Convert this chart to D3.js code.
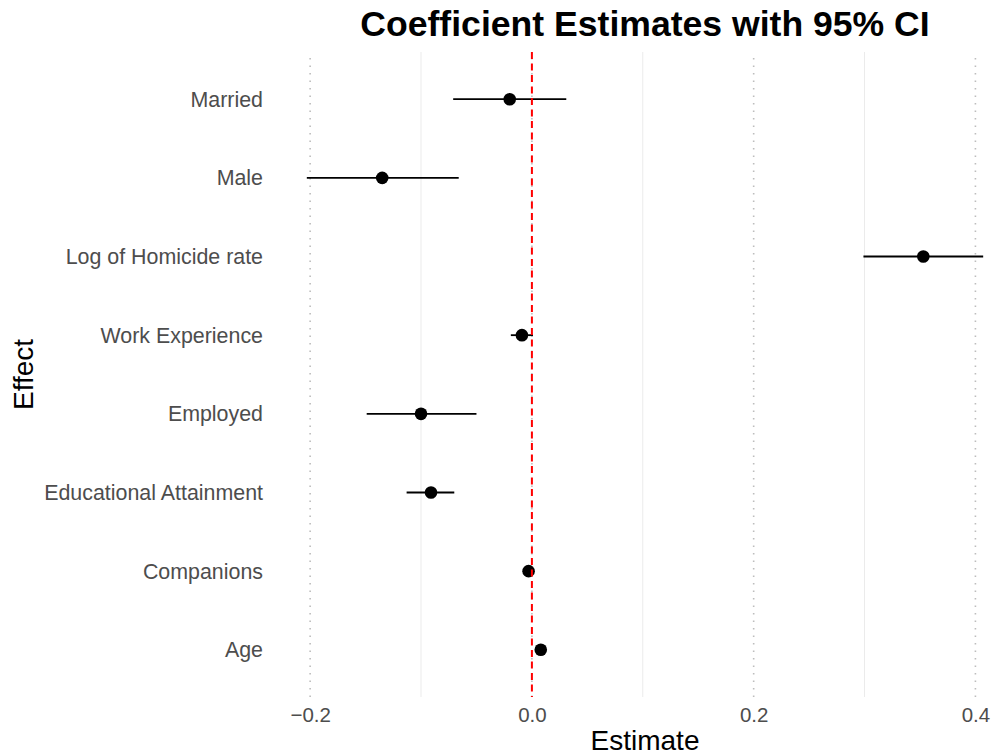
<!DOCTYPE html>
<html>
<head>
<meta charset="utf-8">
<script src="https://cdn.jsdelivr.net/npm/d3@7"></script>
<style>
  body { margin: 0; background: #fff; }
  text { font-family: "Liberation Sans", Arial, Helvetica, sans-serif; }
</style>
</head>
<body>
<div class="chart"></div>
<script>
// data (top to bottom)
var effects = ["Married", "Male", "Log of Homicide rate", "Work Experience",
               "Employed", "Educational Attainment", "Companions", "Age"];
var estimates = [-0.020, -0.135, 0.353, -0.009, -0.100, -0.091, -0.003, 0.008];
var lower =     [-0.071, -0.203, 0.299, -0.019, -0.149, -0.113, -0.005, 0.006];
var upper =     [ 0.031, -0.066, 0.407,  0.001, -0.050, -0.070, -0.001, 0.010];
var majorTicks = [-0.2, 0.0, 0.2, 0.4];
var minorTicks = [-0.1, 0.1, 0.3];

var dataset = effects.map(function(e, i) {
  return { effect: e, est: estimates[i], lo: lower[i], hi: upper[i] };
});

var svgWidth = 993;
var svgHeight = 756;

// panel box (the right edge runs past the picture, as in the reference)
var panel = { left: 273, right: 1017, top: 52, bottom: 697 };

var svg = d3.select(".chart")
  .append("svg")
  .attr("width", svgWidth)
  .attr("height", svgHeight);

// x scale with 5% expansion like ggplot
var xmin = d3.min(dataset, d => d.lo);
var xmax = d3.max(dataset, d => d.hi);
var pad = (xmax - xmin) * 0.05;
var xScale = d3.scaleLinear()
  .domain([xmin - pad, xmax + pad])
  .range([panel.left, panel.right]);

var yScale = d3.scalePoint()
  .domain(effects)
  .range([panel.top, panel.bottom])
  .padding(0.6);

// minor grid
svg.append("g").selectAll("line")
  .data(minorTicks)
  .enter()
  .append("line")
  .attr("x1", d => xScale(d)).attr("x2", d => xScale(d))
  .attr("y1", panel.top).attr("y2", panel.bottom)
  .attr("stroke", "#ebebeb")
  .attr("stroke-width", 1);

// major grid (dotted)
svg.append("g").selectAll("line")
  .data(majorTicks)
  .enter()
  .append("line")
  .attr("x1", d => xScale(d)).attr("x2", d => xScale(d))
  .attr("y1", panel.top + 6).attr("y2", panel.bottom)
  .attr("stroke", "#bdbdbd")
  .attr("stroke-width", 1.6)
  .attr("stroke-dasharray", "1.5,6");

// error bars
svg.append("g").selectAll("line")
  .data(dataset)
  .enter()
  .append("line")
  .attr("x1", d => xScale(d.lo))
  .attr("x2", d => xScale(d.hi))
  .attr("y1", d => yScale(d.effect))
  .attr("y2", d => yScale(d.effect))
  .attr("stroke", "#000")
  .attr("stroke-width", 1.8);

// points
svg.append("g").selectAll("circle")
  .data(dataset)
  .enter()
  .append("circle")
  .attr("cx", d => xScale(d.est))
  .attr("cy", d => yScale(d.effect))
  .attr("r", 6.3)
  .attr("fill", "#000");

// zero line
svg.append("line")
  .attr("x1", xScale(0)).attr("x2", xScale(0))
  .attr("y1", panel.top).attr("y2", panel.bottom)
  .attr("stroke", "#ff0000")
  .attr("stroke-width", 2)
  .attr("stroke-dasharray", "7,4.5");

// x axis labels
var bottomAxis = d3.axisBottom(xScale)
  .tickValues(majorTicks)
  .tickSize(0)
  .tickPadding(0)
  .tickFormat(d => d3.format(".1f")(d).replace("-", "\u2212"));

var xAxis = svg.append("g")
  .attr("transform", `translate(0, ${panel.bottom})`)
  .call(bottomAxis);
xAxis.select(".domain").remove();
xAxis.selectAll("text")
  .attr("y", 25)
  .attr("dy", 0)
  .attr("fill", "#4d4d4d")
  .style("font-size", "20.5px")
  .style("font-family", "'Liberation Sans', Arial, sans-serif");

// y axis labels
var leftAxis = d3.axisLeft(yScale).tickSize(0).tickPadding(10);
var yAxis = svg.append("g")
  .attr("transform", `translate(${panel.left}, 0)`)
  .call(leftAxis);
yAxis.select(".domain").remove();
yAxis.selectAll("text")
  .attr("fill", "#4d4d4d")
  .style("font-size", "21.4px")
  .style("font-family", "'Liberation Sans', Arial, sans-serif");

var centerX = (panel.left + panel.right) / 2;

// titles
svg.append("text")
  .attr("x", centerX)
  .attr("y", 36)
  .attr("text-anchor", "middle")
  .style("font-size", "35.6px")
  .style("font-weight", "bold")
  .text("Coefficient Estimates with 95% CI");

svg.append("text")
  .attr("x", centerX)
  .attr("y", 750)
  .attr("text-anchor", "middle")
  .style("font-size", "28px")
  .text("Estimate");

svg.append("text")
  .attr("transform", "rotate(-90)")
  .attr("x", -(panel.top + panel.bottom) / 2)
  .attr("y", 33)
  .attr("text-anchor", "middle")
  .style("font-size", "28px")
  .text("Effect");
</script>
</body>
</html>
